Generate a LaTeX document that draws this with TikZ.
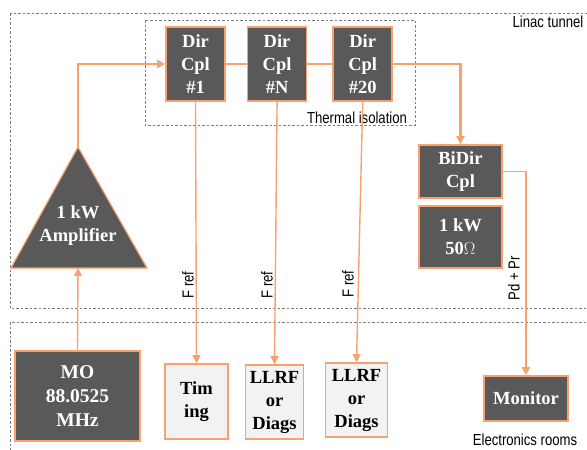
\documentclass[tikz,border=0pt]{standalone}
\usepackage{fontspec}
\setmainfont{Liberation Serif}
\newfontfamily\labelfont[FakeStretch=0.82]{Liberation Sans}
\usetikzlibrary{arrows.meta, positioning}
\definecolor{boxgray}{RGB}{89, 89, 89}
\definecolor{paleg}{RGB}{242, 242, 242}
\definecolor{rforange}{RGB}{248, 160, 112}
\definecolor{zonegray}{RGB}{125, 125, 115}

\begin{document}
\begin{tikzpicture}[
    x=1pt, y=-1pt,
    node distance=22pt,
    darkbox/.style={rectangle, draw=rforange, fill=boxgray, line width=1.6pt, text=white, align=center, inner sep=0pt, font=\fontsize{18.5}{23}\selectfont\bfseries},
    lightbox/.style={darkbox, fill=paleg, text=black},
    cplbox/.style={darkbox, minimum width=59pt, minimum height=74pt},
    zone/.style={draw=zonegray, line width=0.8pt, dash pattern=on 2.5pt off 2pt},
    rfline/.style={draw=rforange, line width=2.4pt, -{Triangle[length=8pt, width=8pt]}},
    sigline/.style={draw=rforange, line width=1.4pt, -{Triangle[length=8pt, width=8pt]}},
    lbl/.style={font=\labelfont\fontsize{16}{18}\selectfont, inner sep=0pt}
]
\useasboundingbox (0,0) rectangle (587,450);

% zones
\draw[zone] (10,13) rectangle (600,308);
\draw[zone] (10,322) rectangle (600,470);
\draw[zone] (145,20) rectangle (415,125);
\node[lbl] (tunnel) at (548,22) {Linac tunnel};
\node[lbl] (rooms) at (525,440) {Electronics rooms};
\node[lbl] (thermal) at (357,118) {Thermal isolation};

% tunnel side
\node[cplbox] (cpl1) at (195.5,64) {Dir\\Cpl\\\#1};
\node[cplbox, right=21pt of cpl1] (cplN) {Dir\\Cpl\\\#N};
\node[cplbox, right=25pt of cplN] (cpl20) {Dir\\Cpl\\\#20};
\node[darkbox, minimum width=83pt, minimum height=53pt] (bidir) at (460.5,171.5) {BiDir\\Cpl};
\node[darkbox, minimum width=83pt, minimum height=62pt] (load) at (460.5,237) {1 kW\\50$\Omega$};

\coordinate (ampapex) at (78,147);
\coordinate (ampin) at (78,268);
\draw[draw=rforange, fill=boxgray, line width=1.2pt] (ampapex) -- (11,268) -- (147,268) -- cycle;
\node[darkbox, draw=none, fill=none] (amp) at (78,226) {1 kW\\Amplifier};

% electronics rooms
\node[darkbox, minimum width=125pt, minimum height=90pt, font=\fontsize{19.5}{24}\selectfont\bfseries] (mo) at (77.5,396) {MO\\88.0525\\MHz};
\node[lightbox, minimum width=63pt, minimum height=75pt] (timing) at (196.5,401.5) {Tim\\ing};
\node[lightbox, minimum width=58pt, minimum height=74pt] (llrfa) at (274.5,402) {LLRF\\or\\Diags};
\node[lightbox, minimum width=62pt, minimum height=74pt] (llrfb) at (356.5,400) {LLRF\\or\\Diags};
\node[darkbox, minimum width=84pt, minimum height=45pt] (monitor) at (526,398.5) {Monitor};

% rf path
\draw[rfline] (ampapex) |- (cpl1.west);
\draw[draw=rforange, line width=2.4pt] (cpl1) -- (cplN);
\draw[draw=rforange, line width=2.4pt] (cplN) -- (cpl20);
\draw[rfline] (cpl20.east) -| (bidir.north);
\draw[sigline] (mo.north) -- (ampin);

% signals down to the racks
\draw[sigline] (cpl1.south) -- (timing.north);
\draw[sigline] (cplN.south) -- (llrfa.north);
\draw[sigline] (cpl20.south) -- (llrfb.north);
\draw[sigline, line width=1.8pt] (bidir.east) -| (monitor.north);

\node[lbl, rotate=90] (fref1) at (188,285) {F ref};
\node[lbl, rotate=90] (fref2) at (267,285) {F ref};
\node[lbl, rotate=90] (fref3) at (348,284) {F ref};
\node[lbl, rotate=90] (pdpr) at (514,278) {Pd + Pr};
\end{tikzpicture}
\end{document}
